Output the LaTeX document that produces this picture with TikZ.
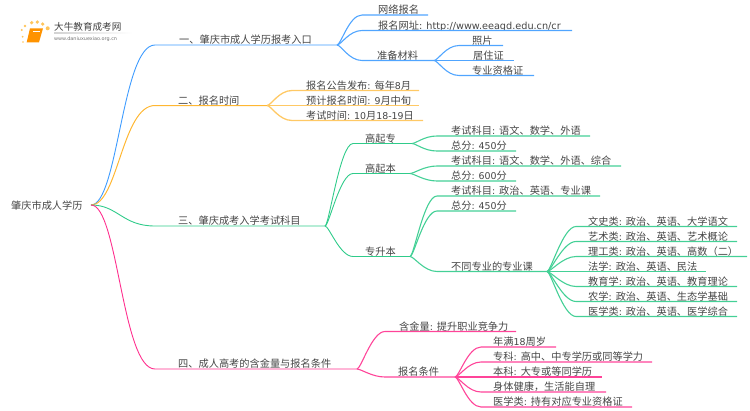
\documentclass[tikz,border=0pt]{standalone}
\usepackage{fontspec}
\setmainfont{Noto Sans CJK SC}
\newfontfamily\latfont{DejaVu Sans}
\newcommand{\lat}[1]{{\latfont\fontsize{9.4}{11}\selectfont #1}}
\definecolor{mapblue}{HTML}{3D9BFF}
\definecolor{maporange}{HTML}{FFB732}
\definecolor{mapgreen}{HTML}{2FCB8A}
\definecolor{mappink}{HTML}{FF2F8E}
\definecolor{maptext}{HTML}{454545}
\begin{document}
\begin{tikzpicture}[
    x=1pt,y=-1pt,
    txt/.style={anchor=base west,inner sep=0pt,text=maptext,font=\fontsize{10.2}{12}\selectfont},
    blue1/.style={mapblue,line width=0.9pt},
    blue2/.style={mapblue!90,line width=1.1pt},
    orange1/.style={maporange,line width=1pt},
    orange2/.style={maporange!75,line width=1.3pt},
    green1/.style={mapgreen,line width=0.9pt},
    green2/.style={mapgreen!90,line width=1.1pt},
    pink1/.style={mappink,line width=0.9pt},
    pink2/.style={mappink!90,line width=1.1pt}
    ]
    \useasboundingbox (0,0) rectangle (750,410);

    \foreach \x/\y/\r in {21.7/30/1.1,25/26/1.4,31.7/22.7/1.8,37.3/22/1.8,42.7/24/1.8,47.7/28.3/2,22.7/36.7/1,23/42/0.8}
      \fill[maporange!80] (\x,\y) circle (\r);
    \fill[orange!85!yellow] (30,28.3) -- (43,28.3) -- (39,42.3) -- (26.7,42.3) -- cycle;
    \draw[white,line width=0.6pt] (33,31) -- (40,31);
    \shade[left color=gray!35,right color=white] (54,32.8) rectangle (132,33.4);
    \node (logotitle) [txt,text=black!75,font=\fontsize{9.6}{11}\selectfont] at (54,30.5) {大牛教育成考网};
    \node (logourl) [txt,text=black!55,font=\latfont\fontsize{4.9}{6}\selectfont] at (54,40.5) {www.daniuxuexiao.org.cn};

    \node (root) [txt] at (11,209.5) {肇庆市成人学历};
    \coordinate (root-b) at (91,205);

    \foreach \prt/\nd/\col/\xs/\xt/\y/\xe/\da/\db/\txt in {
      root/entry/blue1/155/179/45/337/27/33/{一、肇庆市成人学历报考入口},
      root/time/orange1/155/178/105.5/267/27/33/{二、报名时间},
      root/subject/green1/155/178/226/325/27/33/{三、肇庆成考入学考试科目},
      entry/online/blue2/362/378/15/428/4/13/{网络报名},
      entry/site/blue2/362/378/30.5/572/4/13/{报名网址{\latfont\fontsize{9.7}{11}\selectfont : http://www.eeagd.edu.cn/cr}},
      entry/prepare/blue2/362/377/60.5/434/4/13/{准备材料},
      prepare/photo/blue2/459/472/45.5/503/4/13/{照片},
      prepare/permit/blue2/459/473/60.5/514/4/13/{居住证},
      prepare/cert/blue2/459/472/75.5/534/4/13/{专业资格证},
      time/notice/orange2/292/306/90.5/419/4/13/{报名公告发布\lat{: }每年\lat{8}月},
      time/plan/orange2/292/306/105.5/419/4/13/{预计报名时间\lat{: 9}月中旬},
      time/exam/orange2/292/306/120.5/423/4/13/{考试时间\lat{: 10}月\lat{18-19}日},
      subject/gqz/green1/353/365/143.5/412/4/13/{高起专},
      subject/gqb/green1/353/365/173.5/410/4/13/{高起本},
      subject/zsb/green1/353/365/256.5/410/4/13/{专升本},
      gqz/gqzsub/green2/437/451/136/590/4/13/{考试科目\lat{: }语文、数学、外语},
      gqz/gqzsum/green2/437/451/151/516/4/13/{总分\lat{: 450}分},
      gqb/gqbsub/green2/437/451/166/621/4/13/{考试科目\lat{: }语文、数学、外语、综合},
      gqb/gqbsum/green2/437/451/181/516/4/13/{总分\lat{: 600}分},
      zsb/zsbsub/green2/437/451/196/600/4/13/{考试科目\lat{: }政治、英语、专业课},
      zsb/zsbsum/green2/437/451/211/516/4/13/{总分\lat{: 450}分},
      zsb/major/green2/437/451/271.5/547/4/13/{不同专业的专业课},
      major/major1/green2/576/588/226.5/737/4/13/{文史类\lat{: }政治、英语、大学语文},
      major/major2/green2/576/588/241.5/737/4/13/{艺术类\lat{: }政治、英语、艺术概论},
      major/major3/green2/576/588/256.5/747/4/13/{理工类\lat{: }政治、英语、高数（二）},
      major/major4/green2/576/588/271.5/706/4/13/{法学\lat{: }政治、英语、民法},
      major/major5/green2/576/588/286.5/737/4/13/{教育学\lat{: }政治、英语、教育理论},
      major/major6/green2/576/588/301.5/737/4/13/{农学\lat{: }政治、英语、生态学基础},
      major/major7/green2/576/588/316.5/737/4/13/{医学类\lat{: }政治、英语、医学综合},
      root/value/pink1/155/178/369/357/27/33/{四、成人高考的含金量与报名条件},
      value/worth/pink2/385/399/331.5/516/4/13/{含金量\lat{: }提升职业竞争力},
      value/terms/pink2/385/398/377/455/4/13/{报名条件},
      terms/terms1/pink2/481/493/347/556/4/13/{年满\lat{18}周岁},
      terms/terms2/pink2/481/493/362/652/4/13/{专科\lat{: }高中、中专学历或同等学力},
      terms/terms3/pink2/481/493/377/602/4/13/{本科\lat{: }大专或等同学历},
      terms/terms4/pink2/481/493/392/606/4/13/{身体健康，生活能自理},
      terms/terms5/pink2/481/493/407/632/4/13/{医学类\lat{: }持有对应专业资格证}
    } {
      \coordinate (\nd-a) at (\xs,\y);
      \coordinate (\nd-b) at (\xe,\y);
      \node (\nd) [txt] at (\xt,\y-1.5) {\txt};
      \draw[\col] (\prt-b) .. controls +(\da,0) and +(-\db,0) .. (\nd-a) -- (\nd-b);
    }

  \end{tikzpicture}
\end{document}
